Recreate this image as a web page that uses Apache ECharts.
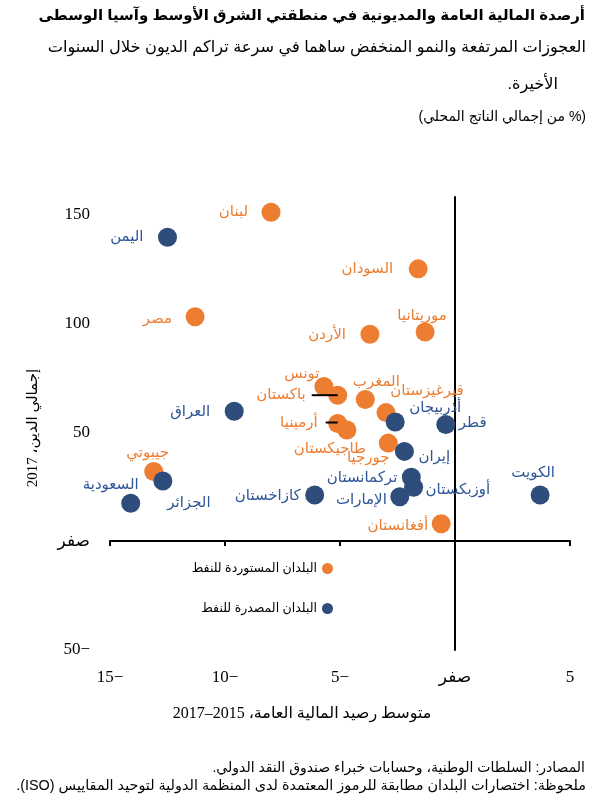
<!DOCTYPE html>
<html dir="rtl" lang="ar">
<head>
<meta charset="utf-8">
<script src="https://cdn.jsdelivr.net/npm/echarts@6/dist/echarts.min.js"></script>
<style>
  html, body { margin: 0; padding: 0; background: #fff; }
  #main { width: 592px; height: 806px; }
</style>
</head>
<body>
<div id="main"></div>
<script>
// oil importers
var importers = ['لبنان', 'مصر', 'السودان', 'موريتانيا', 'الأردن', 'تونس', 'باكستان', 'المغرب', 'قيرغيزستان', 'أرمينيا', 'طاجيكستان', 'جورجيا', 'أفغانستان', 'جيبوتي'];
var importerBalance = [-8.0, -11.3, -1.6, -1.3, -3.7, -5.7, -5.1, -3.9, -3.0, -5.1, -4.7, -2.9, -0.6, -13.1];
var importerDebt = [151, 103, 125, 96, 95, 71, 67, 65, 59, 54, 51, 45, 8, 32];

// oil exporters
var exporters = ['اليمن', 'العراق', 'الجزائر', 'السعودية', 'كازاخستان', 'أذربيجان', 'قطر', 'إيران', 'تركمانستان', 'أوزبكستان', 'الإمارات', 'الكويت'];
var exporterBalance = [-12.5, -9.6, -12.7, -14.1, -6.1, -2.6, -0.4, -2.2, -1.9, -1.8, -2.4, 3.7];
var exporterDebt = [139.5, 59.6, 27.6, 17.4, 21.2, 54.7, 53.5, 41.2, 29.3, 24.7, 20.4, 21.2];

var xTicks = { '-15': '−15', '-10': '−10', '-5': '−5', '0': 'صفر', '5': '5' };
var yTicks = { '-50': '−50', '0': 'صفر', '50': '50', '100': '100', '150': '150' };

var seriesNames = ['البلدان المستوردة للنفط', 'البلدان المصدرة للنفط'];

// label placement: [dx, dy, align] from the dot centre
var labelAt = {
  'لبنان': [-23, 0, 'right'], 'مصر': [-23, 2, 'right'], 'السودان': [-25, 0, 'right'],
  'موريتانيا': [-3, -16, 'center'], 'الأردن': [-24, 1, 'right'], 'تونس': [-22, -13, 'center'],
  'باكستان': [-32, 0, 'right'], 'المغرب': [11, -18, 'center'], 'قيرغيزستان': [41, -22, 'center'],
  'أرمينيا': [-20, -1, 'right'], 'طاجيكستان': [-17, 19, 'center'], 'جورجيا': [-20, 15, 'center'],
  'أفغانستان': [-13, 2, 'right'], 'جيبوتي': [-6, -19, 'center'],
  'اليمن': [-24, 0, 'right'], 'العراق': [-24, 1, 'right'], 'الجزائر': [26, 22, 'center'],
  'السعودية': [-20, -18, 'center'], 'كازاخستان': [-14, 1, 'right'], 'أذربيجان': [40, -14, 'center'],
  'قطر': [13, -2, 'left'], 'إيران': [14, 5, 'left'], 'تركمانستان': [-14, 1, 'right'],
  'أوزبكستان': [12, 3, 'left'], 'الإمارات': [-13, 3, 'right'], 'الكويت': [-7, -22, 'center']
};
// short leader lines: [x1, y1, x2, y2] in px from dot centre
var leaders = { 'باكستان': [-26, 0, 0, 0], 'أرمينيا': [-12, -1, 0, -1] };

var ORANGE = '#ED7D31', BLUE_DOT = '#2E4D7B', BLUE_TXT = '#2F5597';
var SERIF = "'Liberation Serif', 'DejaVu Sans', serif";
var SANS = "'Liberation Sans', 'DejaVu Sans', sans-serif";

function points(names, xs, ys) {
  return names.map(function (n, i) {
    var l = labelAt[n];
    return {
      name: n, value: [xs[i], ys[i]],
      label: { offset: [l[0], l[1]], align: l[2] }
    };
  });
}

var leaderData = [];
importers.forEach(function (n, i) {
  if (leaders[n]) leaderData.push({ name: n, value: [importerBalance[i], importerDebt[i]] });
});

var chart = echarts.init(document.getElementById('main'));
chart.setOption({
  animation: false,
  grid: { left: 110, right: 22, top: 197, bottom: 156, containLabel: false },
  xAxis: [{
    type: 'value', min: -15, max: 5, interval: 5, position: 'bottom',
    axisLine: { show: false }, axisTick: { show: false }, splitLine: { show: false },
    axisLabel: { margin: 19, color: '#000', fontSize: 17, fontFamily: SERIF,
      formatter: function (v) { return xTicks[v] || ''; } }
  }, {
    type: 'value', min: -15, max: 5, interval: 5,
    axisLine: { onZero: true, lineStyle: { color: '#000', width: 2 } },
    axisTick: { show: true, inside: true, length: 5, lineStyle: { color: '#000', width: 2 } },
    axisLabel: { show: false }, splitLine: { show: false }
  }],
  yAxis: [{
    type: 'value', min: -50, max: 158, interval: 50, position: 'left',
    axisLine: { show: false }, axisTick: { show: false }, splitLine: { show: false },
    axisLabel: { margin: 20, color: '#000', fontSize: 17, fontFamily: SERIF,
      formatter: function (v) { return yTicks[v] || ''; } }
  }, {
    type: 'value', min: -50, max: 158, interval: 50,
    axisLine: { onZero: true, lineStyle: { color: '#000', width: 2 } },
    axisTick: { show: false }, axisLabel: { show: false }, splitLine: { show: false }
  }],
  legend: {
    orient: 'vertical', align: 'right', right: 254, top: 557,
    itemWidth: 11, itemHeight: 11, itemGap: 27,
    textStyle: { color: '#000', fontSize: 12.5, fontFamily: SANS },
    data: seriesNames.map(function (n) { return { name: n, icon: 'circle' }; })
  },
  graphic: [
    { type: 'text', style: { text: 'أرصدة المالية العامة والمديونية في منطقتي الشرق الأوسط وآسيا الوسطى',
      x: 585, y: 16, textAlign: 'right', textVerticalAlign: 'middle', fill: '#000',
      fontSize: 15, fontWeight: 'bold', fontFamily: SANS } },
    { type: 'text', style: { text: 'العجوزات المرتفعة والنمو المنخفض ساهما في سرعة تراكم الديون خلال السنوات',
      x: 586, y: 48, textAlign: 'right', textVerticalAlign: 'middle', fill: '#000',
      fontSize: 16.2, fontFamily: SANS } },
    { type: 'text', style: { text: 'الأخيرة.',
      x: 558, y: 85, textAlign: 'right', textVerticalAlign: 'middle', fill: '#000',
      fontSize: 16.2, fontFamily: SANS } },
    { type: 'text', style: { text: '(% من إجمالي الناتج المحلي)',
      x: 586, y: 117, textAlign: 'right', textVerticalAlign: 'middle', fill: '#000',
      fontSize: 14, fontFamily: SANS } },
    { type: 'text', rotation: Math.PI / 2, x: 33, y: 428, style: { text: 'إجمالي الدين، 2017',
      x: 0, y: 0, textAlign: 'center', textVerticalAlign: 'middle', fill: '#000',
      fontSize: 15, fontFamily: SERIF } },
    { type: 'text', style: { text: 'متوسط رصيد المالية العامة، 2015–2017',
      x: 302, y: 714, textAlign: 'center', textVerticalAlign: 'middle', fill: '#000',
      fontSize: 16, fontFamily: SERIF } },
    { type: 'text', style: { text: 'المصادر: السلطات الوطنية، وحسابات خبراء صندوق النقد الدولي.',
      x: 585, y: 768, textAlign: 'right', textVerticalAlign: 'middle', fill: '#000',
      fontSize: 14, fontFamily: SANS } },
    { type: 'text', style: { text: 'ملحوظة: اختصارات البلدان مطابقة للرموز المعتمدة لدى المنظمة الدولية لتوحيد المقاييس (ISO).',
      x: 586, y: 786, textAlign: 'right', textVerticalAlign: 'middle', fill: '#000',
      fontSize: 14.4, fontFamily: SANS } }
  ],
  series: [{
    name: seriesNames[0], type: 'scatter', symbolSize: 19, xAxisIndex: 0, yAxisIndex: 0,
    itemStyle: { color: ORANGE, opacity: 1 },
    label: { show: true, position: 'inside', formatter: '{b}', color: ORANGE,
      fontSize: 15, fontFamily: SANS, verticalAlign: 'middle' },
    data: points(importers, importerBalance, importerDebt)
  }, {
    name: seriesNames[1], type: 'scatter', symbolSize: 19, xAxisIndex: 0, yAxisIndex: 0,
    itemStyle: { color: BLUE_DOT, opacity: 1 },
    label: { show: true, position: 'inside', formatter: '{b}', color: BLUE_TXT,
      fontSize: 15, fontFamily: SANS, verticalAlign: 'middle' },
    data: points(exporters, exporterBalance, exporterDebt)
  }, {
    type: 'custom', xAxisIndex: 0, yAxisIndex: 0, z: 5, silent: true,
    data: leaderData,
    renderItem: function (params, api) {
      var c = api.coord([api.value(0), api.value(1)]);
      var o = leaders[leaderData[params.dataIndex].name];
      return { type: 'line',
        shape: { x1: c[0] + o[0], y1: c[1] + o[1], x2: c[0] + o[2], y2: c[1] + o[3] },
        style: { stroke: '#000', lineWidth: 2 } };
    }
  }]
});
</script>
</body>
</html>
